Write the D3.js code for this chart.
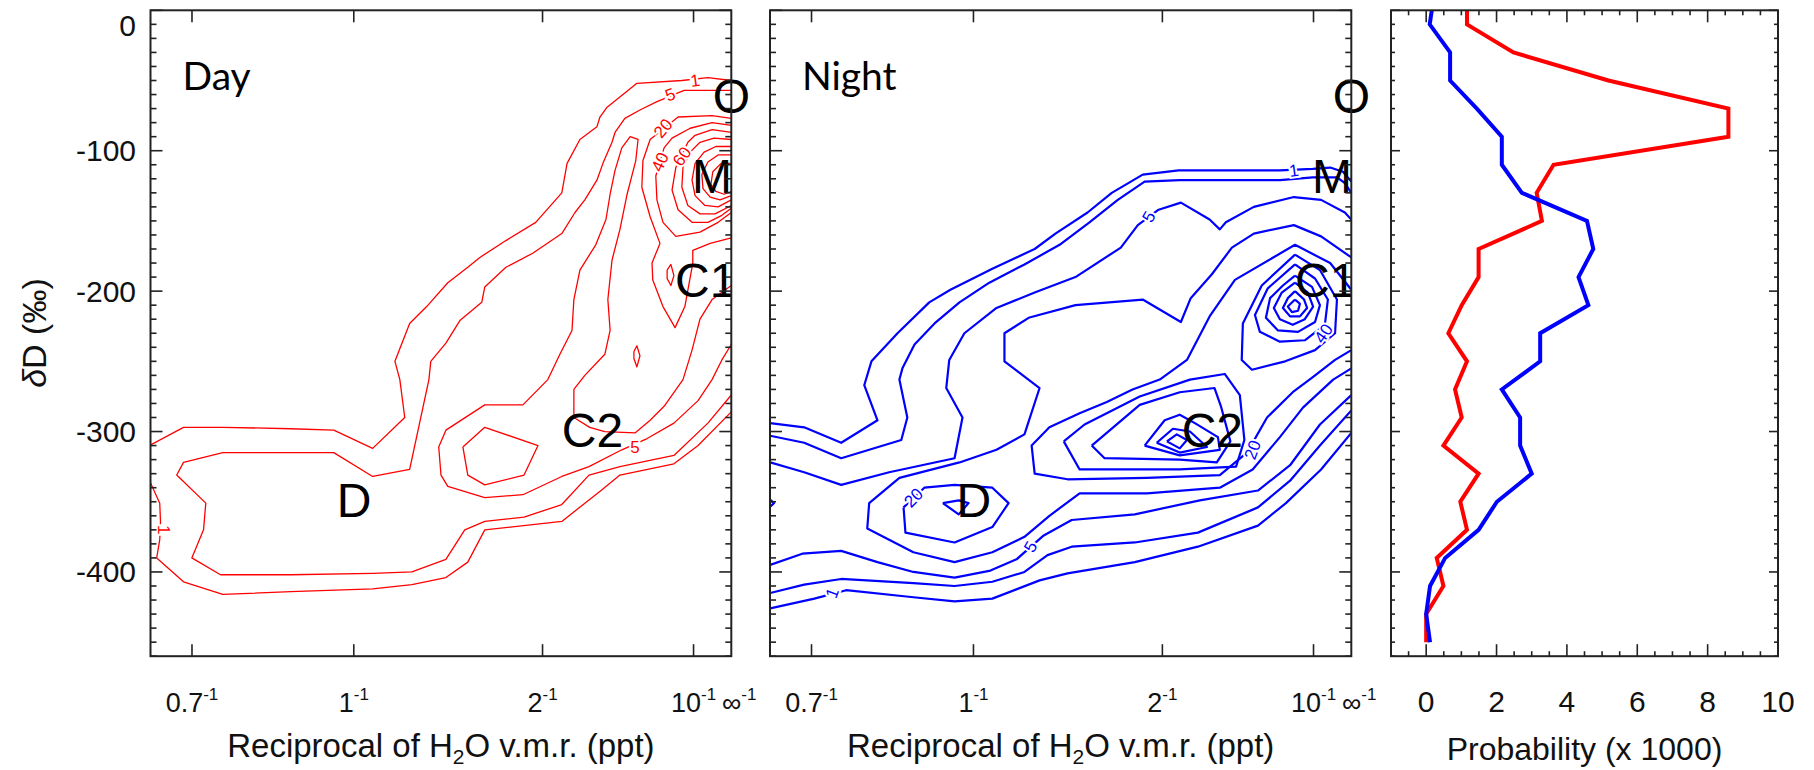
<!DOCTYPE html>
<html>
<head>
<meta charset="utf-8">
<script src="https://cdn.jsdelivr.net/npm/d3@7"></script>
<style>
  body { margin: 0; background: #fff; }
  svg { display: block; }
</style>
</head>
<body>
<div id="chart"></div>
<script>
// ---- data: contour lines, [reciprocal of H2O vmr (1/ppt), deltaD (permil)] ----
const dayL1a = [[0.000,-50],[0.062,-48],[0.131,-50],[0.250,-52],[0.329,-69],[0.348,-76],[0.356,-83],[0.401,-92],[0.435,-109],[0.449,-130],[0.518,-151],[0.597,-164],[0.666,-176],[0.698,-183],[0.751,-194],[0.807,-211],[0.852,-223],[0.891,-250],[0.878,-263],[0.865,-290],[0.950,-312],[1.053,-299],[1.167,-298],[1.347,-297],[1.451,-297],[1.541,-310]];
const dayL1b = [[1.541,-335],[1.514,-351],[1.512,-364],[1.514,-377],[1.522,-390],[1.451,-407],[1.347,-416],[1.167,-414],[0.950,-412],[0.846,-409],[0.756,-404],[0.698,-393],[0.653,-370],[0.449,-364],[0.345,-342],[0.295,-331],[0.152,-323],[0.088,-310],[0.000,-286]];
const dayL5 = [[0.000,-57],[0.038,-57],[0.125,-57],[0.197,-65],[0.242,-71],[0.282,-77],[0.308,-87],[0.316,-94],[0.340,-109],[0.356,-121],[0.388,-135],[0.414,-144],[0.449,-159],[0.526,-173],[0.597,-183],[0.653,-197],[0.661,-208],[0.719,-221],[0.756,-237],[0.796,-250],[0.801,-263],[0.852,-327],[0.950,-332],[1.053,-315],[1.347,-315],[1.451,-322],[1.469,-331],[1.392,-351],[1.398,-370],[1.429,-390],[1.353,-402],[1.167,-402],[0.950,-401],[0.846,-400],[0.756,-391],[0.706,-370],[0.653,-364],[0.549,-361],[0.449,-352],[0.377,-331],[0.295,-325],[0.152,-317],[0.062,-294],[0.000,-274]];
const dayL10 = [[0.000,-238],[0.025,-249],[0.051,-263],[0.088,-278],[0.152,-294],[0.223,-305],[0.290,-313],[0.377,-325],[0.449,-332],[0.552,-345],[0.653,-347],[0.751,-339],[0.769,-331],[0.775,-311],[0.756,-299],[0.653,-281],[0.552,-281],[0.486,-263],[0.454,-245],[0.422,-228],[0.417,-206],[0.401,-185],[0.359,-167],[0.332,-149],[0.321,-131],[0.308,-114],[0.290,-98],[0.268,-90],[0.247,-92],[0.253,-107],[0.276,-131],[0.295,-156],[0.316,-178],[0.327,-206],[0.321,-228],[0.335,-245],[0.388,-260],[0.417,-270],[0.417,-290],[0.375,-297],[0.335,-300],[0.255,-301],[0.215,-292],[0.178,-282],[0.128,-263],[0.104,-242],[0.083,-220],[0.051,-206],[0.000,-196]];
const dayL20 = [[0.000,-77],[0.051,-75],[0.141,-76],[0.215,-92],[0.234,-107],[0.237,-126],[0.215,-147],[0.189,-166],[0.210,-180],[0.208,-192],[0.181,-211],[0.149,-226],[0.123,-211],[0.102,-180],[0.102,-171],[0.056,-166],[0.000,-162]];
const dayR40 = [[0.000,-82],[0.051,-80],[0.109,-84],[0.157,-91],[0.178,-98],[0.200,-118],[0.197,-135],[0.181,-151],[0.147,-161],[0.083,-158],[0.035,-151],[0.000,-144]];
const dayR60 = [[0.000,-87],[0.051,-85],[0.096,-89],[0.115,-94],[0.147,-112],[0.157,-128],[0.141,-142],[0.104,-151],[0.062,-151],[0.025,-146],[0.000,-141]];
const dayR80 = [[0.000,-92],[0.046,-91],[0.083,-94],[0.109,-101],[0.128,-112],[0.131,-126],[0.115,-139],[0.083,-145],[0.043,-145],[0.000,-139]];
const dayR100 = [[0.000,-97],[0.041,-97],[0.072,-101],[0.096,-109],[0.104,-121],[0.096,-132],[0.070,-139],[0.035,-140],[0.000,-135]];
const dayR120 = [[0.000,-103],[0.035,-103],[0.062,-108],[0.078,-117],[0.075,-127],[0.056,-133],[0.030,-135],[0.000,-132]];
const dayR140 = [[0.000,-109],[0.027,-109],[0.049,-115],[0.054,-124],[0.041,-129],[0.019,-131],[0.000,-129]];
const dayDia1 = [[0.170,-185],[0.160,-181],[0.152,-189],[0.160,-196],[0.170,-191],[0.170,-185]];
const dayDia2 = [[0.258,-243],[0.250,-239],[0.242,-246],[0.250,-254],[0.258,-248],[0.258,-243]];
const dayRingC2 = [[0.711,-311],[0.653,-297],[0.512,-310],[0.549,-331],[0.653,-338],[0.698,-331],[0.711,-311]];

const nightL1 = [[0.000,-122],[0.022,-115],[0.056,-112],[0.102,-113],[0.189,-114],[0.457,-114],[0.552,-117],[0.634,-130],[0.698,-144],[0.783,-159],[0.838,-170],[0.950,-184],[1.061,-199],[1.117,-208],[1.201,-230],[1.270,-250],[1.289,-267],[1.254,-292],[1.350,-308],[1.448,-297],[1.538,-294]];
const nightL2 = [[0.000,-130],[0.017,-123],[0.038,-119],[0.102,-119],[0.189,-121],[0.454,-121],[0.547,-122],[0.618,-135],[0.693,-151],[0.772,-167],[0.865,-181],[0.958,-194],[1.037,-208],[1.103,-223],[1.156,-238],[1.188,-255],[1.196,-263],[1.175,-290],[1.191,-306],[1.350,-319],[1.448,-308],[1.538,-303]];
const nightL5 = [[0.000,-149],[0.017,-144],[0.080,-135],[0.152,-133],[0.258,-140],[0.332,-151],[0.348,-156],[0.375,-149],[0.451,-137],[0.510,-142],[0.565,-153],[0.610,-169],[0.730,-190],[0.838,-201],[0.939,-212],[1.024,-230],[1.064,-249],[1.072,-269],[1.029,-290],[1.050,-319],[1.223,-329],[1.350,-338],[1.448,-329],[1.538,-322]];
const nightL5b = [[0.000,-176],[0.080,-161],[0.152,-153],[0.258,-159],[0.316,-169],[0.369,-188],[0.425,-205],[0.451,-222],[0.552,-206],[0.730,-210],[0.854,-219],[0.918,-230],[0.918,-250],[0.825,-269],[0.865,-302],[0.939,-313],[1.037,-322],[1.196,-333],[1.276,-351],[1.281,-369],[1.159,-386],[1.050,-393],[0.950,-386],[0.865,-375],[0.799,-360],[0.719,-344],[0.541,-344],[0.348,-340],[0.261,-327],[0.189,-304],[0.128,-283],[0.048,-263],[0.000,-255]];
const nightO1 = [[0.000,-199],[0.056,-180],[0.149,-167],[0.308,-192],[0.375,-218],[0.435,-249],[0.507,-263],[0.579,-270],[0.647,-279],[0.719,-287],[0.799,-297],[0.846,-310],[0.838,-330],[0.751,-334],[0.541,-333],[0.348,-331],[0.276,-315],[0.223,-290],[0.155,-272],[0.101,-261],[0.043,-249],[0.000,-242]];
const nightB1 = [[1.538,-426],[1.421,-419],[1.337,-413],[1.159,-418],[1.050,-421],[0.950,-419],[0.825,-406],[0.751,-401],[0.573,-393],[0.406,-382],[0.247,-367],[0.173,-351],[0.080,-327],[0.000,-301]];
const nightB2 = [[1.538,-415],[1.448,-409],[1.350,-405],[1.159,-408],[1.050,-410],[0.950,-407],[0.865,-400],[0.804,-388],[0.740,-382],[0.573,-379],[0.406,-372],[0.247,-354],[0.162,-335],[0.083,-310],[0.000,-285]];
const nightB3 = [[1.538,-395],[1.453,-387],[1.350,-385],[1.254,-393],[1.159,-400],[1.050,-404],[0.955,-399],[0.886,-391],[0.814,-374],[0.740,-363],[0.573,-359],[0.401,-349],[0.247,-342],[0.162,-324],[0.083,-295],[0.000,-274]];
const nightTip = [[1.540,-348],[1.528,-351],[1.540,-354]];
const nightK1 = [[0.149,-174],[0.083,-185],[0.038,-206],[0.043,-230],[0.096,-242],[0.175,-250],[0.263,-256],[0.290,-249],[0.287,-223],[0.237,-196],[0.149,-174]];
const nightK2 = [[0.149,-181],[0.096,-191],[0.062,-206],[0.070,-224],[0.123,-235],[0.189,-236],[0.242,-229],[0.255,-217],[0.221,-198],[0.149,-181]];
const nightK3 = [[0.149,-189],[0.104,-197],[0.083,-210],[0.096,-222],[0.141,-229],[0.194,-228],[0.226,-219],[0.215,-205],[0.181,-196],[0.149,-189]];
const nightK4 = [[0.149,-194],[0.115,-201],[0.101,-211],[0.123,-220],[0.155,-224],[0.189,-220],[0.205,-212],[0.184,-201],[0.149,-194]];
const nightK5 = [[0.149,-200],[0.125,-206],[0.117,-212],[0.136,-218],[0.162,-218],[0.181,-212],[0.168,-205],[0.149,-200]];
const nightK6 = [[0.149,-206],[0.136,-209],[0.141,-214],[0.157,-215],[0.168,-211],[0.149,-206]];
const nightC2r = [[0.761,-307],[0.706,-295],[0.560,-275],[0.427,-263],[0.335,-259],[0.295,-274],[0.283,-306],[0.305,-325],[0.454,-327],[0.719,-327],[0.761,-307]];
const nightC2a = [[0.687,-310],[0.653,-319],[0.454,-320],[0.356,-322],[0.320,-307],[0.345,-282],[0.362,-269],[0.454,-272],[0.560,-281],[0.687,-310]];
const nightC2b = [[0.547,-310],[0.494,-292],[0.454,-288],[0.414,-294],[0.353,-304],[0.348,-313],[0.454,-317],[0.547,-310]];
const nightC2c = [[0.515,-308],[0.472,-298],[0.427,-300],[0.382,-311],[0.454,-315],[0.515,-308]];
const nightC2d = [[0.488,-307],[0.462,-302],[0.435,-306],[0.454,-312],[0.488,-307]];
const nightD20 = [[1.185,-354],[1.130,-340],[1.050,-338],[0.950,-340],[0.907,-351],[0.950,-368],[1.050,-379],[1.180,-372],[1.185,-354]];
const nightDin = [[1.081,-351],[1.039,-349],[1.013,-351],[1.039,-359],[1.081,-351]];

const dayContours = [dayL1a, dayL1b, dayL5, dayL10, dayL20, dayR40, dayR60, dayR80, dayR100, dayR120, dayR140, dayDia1, dayDia2, dayRingC2];
const nightContours = [nightL1, nightL2, nightL5, nightL5b, nightO1, nightB1, nightB2, nightB3, nightTip, nightK1, nightK2, nightK3, nightK4, nightK5, nightK6, nightC2r, nightC2a, nightC2b, nightC2c, nightC2d, nightD20, nightDin];

// contour labels: [x, y, text, rotation]
const dayLabels = [[0.096,-50,"1",-8],[0.162,-60,"5",-20],[0.181,-84,"20",-50],[0.189,-108,"40",-65],[0.131,-104,"60",-55],[1.503,-370,"1",90],[0.255,-311,"5",0]];
const nightLabels = [[0.152,-114,"1",-8],[0.536,-147,"5",-60],[1.159,-347,"20",-45],[0.849,-382,"5",-60],[1.374,-415,"1",-70],[0.262,-313,"20",-70],[0.074,-230,"40",-55]];

// regime letters
const regimeNames = ["O", "M", "C1", "C2", "D"];
const regimeX = [0.049, 0.104, 0.149, 0.449, 1.045];
const regimeY = [-73, -130, -204, -311, -361];
const regimeClipped = ["M", "C1"];

// probability profiles (x 1000)
const probDD = [0,-10,-30,-50,-70,-90,-110,-130,-150,-170,-190,-210,-230,-250,-270,-290,-310,-330,-350,-370,-390,-410,-430,-450];
const probDay = [1.16,1.16,2.48,5.18,8.59,8.59,3.62,3.14,3.29,1.49,1.49,1.01,0.63,1.16,0.82,1.01,0.49,1.49,0.97,1.16,0.30,0.49,0.00,0.00];
const probNight = [0.16,0.10,0.68,0.68,1.44,2.15,2.15,2.72,4.57,4.75,4.33,4.61,3.24,3.24,2.15,2.67,2.67,3.00,2.01,1.49,0.54,0.11,0.00,0.11];

// axis ticks
const recipTicks = [1/0.7, 1, 0.5, 0.1, 0];
const recipTickText = ["0.7", "1", "2", "10", "\u221e"];
const ddLabelTicks = [0, -100, -200, -300, -400];
const probTicks = [0, 2, 4, 6, 8, 10];

// ---- layout ----
const W = 1814, H = 770;
const TOP = 10.3, BOTTOM = 656.2;
const FONT = "'Liberation Sans', Arial, Helvetica, sans-serif";
const FRAME = "#222";

const svg = d3.select("#chart").append("svg")
    .attr("width", W)
    .attr("height", H)
    .style("background", "#fff");

const y = d3.scaleLinear().domain([-460, 0]).range([BOTTOM, TOP]);
const yMinor = d3.range(-460, 1, 10);

function yTicks(g, left, right, majorLen, minorLen) {
    const t = g.append("g").attr("stroke", FRAME).attr("stroke-width", 1.6);
    yMinor.forEach(v => {
        const len = v % 100 === 0 ? majorLen : minorLen;
        t.append("line").attr("x1", left).attr("x2", left + len).attr("y1", y(v)).attr("y2", y(v));
        t.append("line").attr("x1", right).attr("x2", right - len).attr("y1", y(v)).attr("y2", y(v));
    });
}

function contourPanel(id, left, right, lines, labels, color, lw, title) {
    const x = d3.scaleLinear().domain([1 / 0.65, 0]).range([left, right]);
    const g = svg.append("g");

    svg.append("clipPath").attr("id", "clip-" + id)
        .append("rect").attr("x", left).attr("y", TOP).attr("width", right - left).attr("height", BOTTOM - TOP);

    const line = d3.line().x(d => x(d[0])).y(d => y(d[1]));
    const plot = g.append("g").attr("clip-path", `url(#clip-${id})`);

    plot.selectAll("path.ct").data(lines).join("path")
        .attr("class", "ct")
        .attr("d", line)
        .attr("fill", "none")
        .attr("stroke", color)
        .attr("stroke-width", lw)
        .attr("stroke-linejoin", "round");

    g.selectAll("text.cl").data(labels).join("text")
        .attr("class", "cl")
        .attr("transform", d => `translate(${x(d[0])},${y(d[1])}) rotate(${d[3]})`)
        .attr("text-anchor", "middle")
        .attr("dy", "0.35em")
        .attr("fill", color)
        .attr("stroke", "#fff")
        .attr("stroke-width", 4)
        .attr("paint-order", "stroke")
        .style("font", `17px ${FONT}`)
        .text(d => d[2]);

    // regime letters (M and C1 are cut by the frame as in the original)
    regimeNames.forEach((name, i) => {
        const parent = regimeClipped.includes(name) ? plot : g;
        parent.append("text")
            .attr("x", x(regimeX[i]))
            .attr("y", y(regimeY[i]))
            .attr("fill", "#000")
            .style("font", `48px ${FONT}`)
            .text(name);
    });

    g.append("text")
        .attr("x", left + 32).attr("y", 90)
        .style("font", "39px Lato, 'Open Sans', sans-serif")
        .attr("fill", "#000")
        .text(title);

    // frame + ticks
    g.append("rect")
        .attr("x", left).attr("y", TOP).attr("width", right - left).attr("height", BOTTOM - TOP)
        .attr("fill", "none").attr("stroke", FRAME).attr("stroke-width", 2);
    yTicks(g, left, right, 12, 6);
    const xt = g.append("g").attr("stroke", FRAME).attr("stroke-width", 1.6);
    recipTicks.slice(0, 4).forEach(v => {
        xt.append("line").attr("x1", x(v)).attr("x2", x(v)).attr("y1", BOTTOM).attr("y2", BOTTOM - 12);
        xt.append("line").attr("x1", x(v)).attr("x2", x(v)).attr("y1", TOP).attr("y2", TOP + 12);
    });

    recipTicks.forEach((v, i) => {
        const t = g.append("text")
            .attr("x", x(v) + (v === 0 ? 8 : 0))
            .attr("y", 712)
            .attr("text-anchor", "middle")
            .attr("fill", "#111")
            .style("font", `27px ${FONT}`);
        t.append("tspan").text(recipTickText[i]);
        t.append("tspan").attr("dy", -12).style("font-size", "17px").text("-1");
    });

    const ttl = g.append("text")
        .attr("x", (left + right) / 2).attr("y", 757)
        .attr("text-anchor", "middle")
        .attr("fill", "#111")
        .style("font", `33px ${FONT}`);
    ttl.append("tspan").text("Reciprocal of H");
    ttl.append("tspan").attr("dy", 7).style("font-size", "21px").text("2");
    ttl.append("tspan").attr("dy", -7).text("O v.m.r. (ppt)");

    return g;
}

const dayG = contourPanel("day", 150.5, 731.3, dayContours, dayLabels, "#ff0000", 1.3, "Day");
contourPanel("night", 770, 1351.3, nightContours, nightLabels, "#0000ff", 2.2, "Night");

// y labels on the left panel
dayG.selectAll("text.yl").data(ddLabelTicks).join("text")
    .attr("class", "yl")
    .attr("x", 136)
    .attr("y", d => y(d))
    .attr("dy", d => d === 0 ? "0.85em" : "0.35em")
    .attr("text-anchor", "end")
    .attr("fill", "#111")
    .style("font", `30px ${FONT}`)
    .text(d => d);

const yTitle = svg.append("text")
    .attr("transform", `translate(46,333) rotate(-90)`)
    .attr("text-anchor", "middle")
    .attr("fill", "#111")
    .style("font", `34px ${FONT}`);
yTitle.append("tspan").style("font-style", "italic").text("\u03b4");
yTitle.append("tspan").text("D (\u2030)");

// ---- probability panel ----
const pLeft = 1391, pRight = 1778;
const px = d3.scaleLinear().domain([-1, 10]).range([pLeft, pRight]);
const pg = svg.append("g");

const profLine = vals => d3.line().x((d, i) => px(vals[i])).y(d => y(d))(probDD);
pg.append("path").attr("d", profLine(probDay))
    .attr("fill", "none").attr("stroke", "#ff0000").attr("stroke-width", 4).attr("stroke-linejoin", "miter");
pg.append("path").attr("d", profLine(probNight))
    .attr("fill", "none").attr("stroke", "#0000ff").attr("stroke-width", 4).attr("stroke-linejoin", "miter");

pg.append("rect")
    .attr("x", pLeft).attr("y", TOP).attr("width", pRight - pLeft).attr("height", BOTTOM - TOP)
    .attr("fill", "none").attr("stroke", FRAME).attr("stroke-width", 2);
yTicks(pg, pLeft, pRight, 9, 4);
const pxt = pg.append("g").attr("stroke", FRAME).attr("stroke-width", 1.6);
d3.range(-0.5, 10, 0.5).forEach(v => {
    const len = probTicks.includes(v) ? 12 : 5;
    pxt.append("line").attr("x1", px(v)).attr("x2", px(v)).attr("y1", BOTTOM).attr("y2", BOTTOM - len);
    pxt.append("line").attr("x1", px(v)).attr("x2", px(v)).attr("y1", TOP).attr("y2", TOP + len);
});
pg.selectAll("text.px").data(probTicks).join("text")
    .attr("class", "px")
    .attr("x", d => px(d)).attr("y", 712)
    .attr("text-anchor", "middle")
    .attr("fill", "#111")
    .style("font", `30px ${FONT}`)
    .text(d => d);
pg.append("text")
    .attr("x", (pLeft + pRight) / 2).attr("y", 760)
    .attr("text-anchor", "middle")
    .attr("fill", "#111")
    .style("font", `32px ${FONT}`)
    .text("Probability (x 1000)");
</script>
</body>
</html>
